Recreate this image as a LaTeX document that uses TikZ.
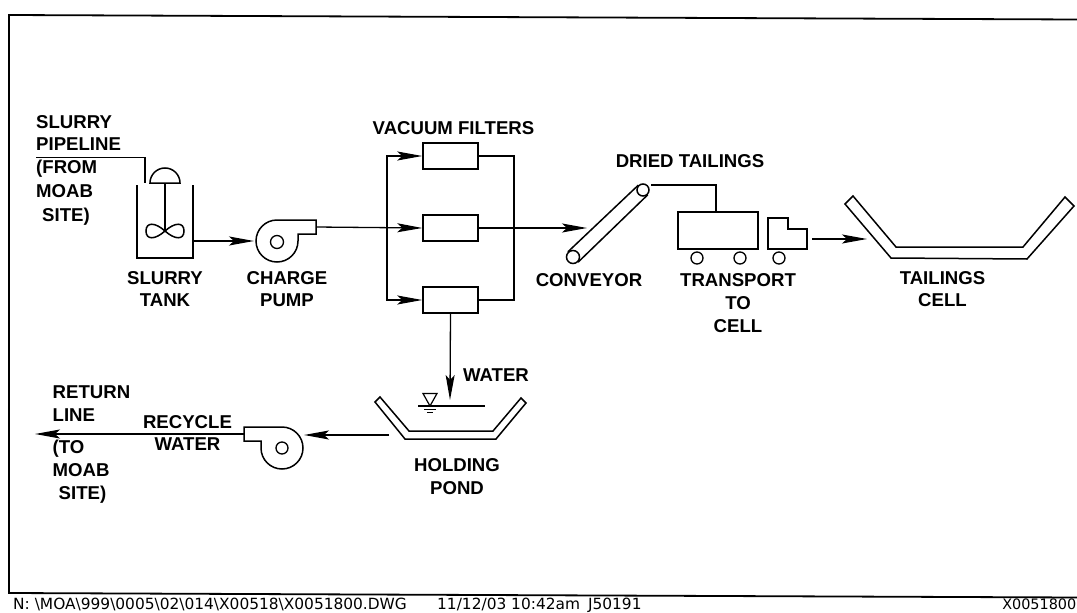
\documentclass[tikz,border=0pt]{standalone}
\usepackage{fontspec}
\setmainfont{Liberation Sans}
\usetikzlibrary{arrows.meta}
\newfontfamily\footfont{DejaVu Sans}
\tikzset{
  x=1pt,y=-1pt,
  line/.style={line width=1.5pt,line join=miter},
  flow/.style={line width=1.3pt,-{Stealth[length=25pt,width=9pt,inset=5pt]}},
  lbl/.style={font=\bfseries\fontsize{18.6}{22}\selectfont,align=center,inner sep=0pt,text=black},
  lbll/.style={lbl,align=left,anchor=north west},
  foot/.style={font=\footfont\fontsize{15.4}{18}\selectfont,inner sep=0pt,anchor=base west},
  wheel/.style={circle,draw,line width=1.3pt,minimum size=12pt,inner sep=0pt},
  box/.style={draw,line width=1.5pt,minimum width=55pt,minimum height=26pt,inner sep=0pt},
}
\begin{document}
\begin{tikzpicture}
\useasboundingbox (0,0) rectangle (1077,613);
\fill[white] (0,0) rectangle (1077,613);
% frame
\draw[line width=1.8pt] (1077,19.5) -- (9,15) -- (9,593) -- (1077,597.5);
% tank
\draw[line] (137,185) -- (137,258) -- (193,258) -- (193,185);
\coordinate (pipeS) at (36,157.5);
\coordinate (pipeE) at (145,183);
\draw[line] (pipeS) -| (pipeE);
\draw[line] (150,183) arc[start angle=180,end angle=0,x radius=15,y radius=-15] -- cycle;
\draw[line] (165,183) -- (165,231);
\draw[line] (165,231) .. controls (155,222) and (146,222) .. (146,231) .. controls (146,240) and (155,240) .. (165,231)
  .. controls (175,222) and (184,222) .. (184,231) .. controls (184,240) and (175,240) .. (165,231);
% pump 1
\coordinate (tankOut) at (193,241);
\coordinate (pump1In) at (254,241);
\draw[flow] (tankOut) -- (pump1In);
\draw[line] (316,220) -- (277,220) arc[start angle=90,end angle=360,x radius=21,y radius=-21] -- (298,234) -- (316,234) -- cycle;
\node[circle,draw,line width=1.3pt,minimum size=13pt,inner sep=0pt] (eye1) at (277,242) {};
% filters
\node[box] (f1) at (450.5,156) {};
\node[box] (f2) at (450.5,228) {};
\node[box] (f3) at (450.5,300) {};
\coordinate (pump1Out) at (316,227);
\coordinate (busL) at (387,228);
\draw[flow] (pump1Out) -- (f2.west);
\draw[flow] (busL) |- (f1.west);
\draw[flow] (busL) |- (f3.west);
\coordinate (busR) at (514,228);
\draw[line] (f1.east) -| (busR);
\draw[line] (f3.east) -| (busR);
\coordinate (convIn) at (587,228);
\draw[flow] (f2.east) -- (convIn);
% conveyor
\node[circle,draw,line width=1.5pt,minimum size=13pt,inner sep=0pt] (cLow) at (573,257) {};
\node[circle,draw,line width=1.5pt,minimum size=12pt,inner sep=0pt] (cUp) at (643,190) {};
\draw[line] (cLow.135) -- (cUp.135);
\draw[line] (cLow.-45) -- (cUp.-45);
% truck
\draw[line] (678,212) rectangle (758,249);
\coordinate (truckTop) at (716,212);
\coordinate (dryS) at (651,185);
\draw[line width=1.2pt] (dryS) -| (truckTop);
\node[wheel] (w1) at (697,258) {};
\node[wheel] (w2) at (740,258) {};
\node[wheel] (w3) at (779,258) {};
\draw[line] (768,218) -- (788,218) -- (788,229) -- (807,229) -- (807,249) -- (768,249) -- cycle;
\coordinate (cabOut) at (812,239);
\coordinate (cellIn) at (867,239);
\draw[flow] (cabOut) -- (cellIn);
% cell
\draw[line] (845,204) -- (853,196) -- (896,247) -- (1023,247) -- (1065,197) -- (1074,206) -- (1027,259) -- (891,258) -- cycle;
% water
\coordinate (pondIn) at (450,400);
\draw[flow] (f3.south) -- (pondIn);
\draw[line width=1.2pt] (418,406) -- (485,406);
\draw[line width=1.2pt] (423,393.5) -- (437,393.5) -- (430,406) -- cycle;
\draw[line width=1.2pt] (424,409.5) -- (436,409.5);
\draw[line width=1.2pt] (427,412.5) -- (433,412.5);
% pond
\draw[line] (375,402) -- (380,397) -- (409,431) -- (493,431) -- (521,398) -- (526,403) -- (496,439) -- (405,439) -- cycle;
% pump 2
\coordinate (pondOut) at (389,435);
\coordinate (pump2In) at (304,435);
\draw[flow] (pondOut) -- (pump2In);
\draw[line] (244,427) -- (282,427) arc[start angle=90,end angle=-180,x radius=21,y radius=-21] -- (261,441) -- (244,441) -- cycle;
\node[circle,draw,line width=1.3pt,minimum size=12pt,inner sep=0pt] (eye2) at (282,448) {};
\coordinate (pump2Out) at (244,434);
\coordinate (retEnd) at (35,434);
\draw[flow] (pump2Out) -- (retEnd);
% labels
\node[lbll] (t1) at (36,115) {SLURRY\\PIPELINE};
\node[lbll] (t2) at (36,160) {(FROM\\[2pt]MOAB\\[2pt]\hspace*{6pt}SITE)};
\node[lbl] (t3) at (165,289.5) {SLURRY\\TANK};
\node[lbl] (t4) at (287,289.5) {CHARGE\\PUMP};
\node[lbl] (t5) at (453.5,128.5) {VACUUM FILTERS};
\node[lbl] (t6) at (690,161.5) {DRIED TAILINGS};
\node[lbl] (t7) at (589,280.5) {CONVEYOR};
\node[lbl] (t8) at (738,303.5) {TRANSPORT\\[1pt]TO\\[1pt]CELL};
\node[lbl] (t9) at (942.5,289.5) {TAILINGS\\CELL};
\node[lbl] (t10) at (496,375.5) {WATER};
\node[lbll] (t11) at (52.5,385) {RETURN\\[1pt]LINE};
\node[lbl] (t12) at (187.5,433.5) {RECYCLE\\WATER};
\node[lbll] (t13) at (52.5,440) {(TO\\[1pt]MOAB\\[1pt]\hspace*{6pt}SITE)};
\node[lbl] (t14) at (457,477) {HOLDING\\[1pt]POND};
\node[foot] (f) at (13,609.5) {N: \textbackslash MOA\textbackslash 999\textbackslash 0005\textbackslash 02\textbackslash 014\textbackslash X00518\textbackslash X0051800.DWG};
\node[foot] (g) at (437,609.5) {11/12/03 10:42am\hspace{8pt}J50191};
\node[foot,anchor=base east,font=\footfont\fontsize{14.4}{18}\selectfont] (h) at (1076.5,609.5) {X0051800};
\end{tikzpicture}
\end{document}
